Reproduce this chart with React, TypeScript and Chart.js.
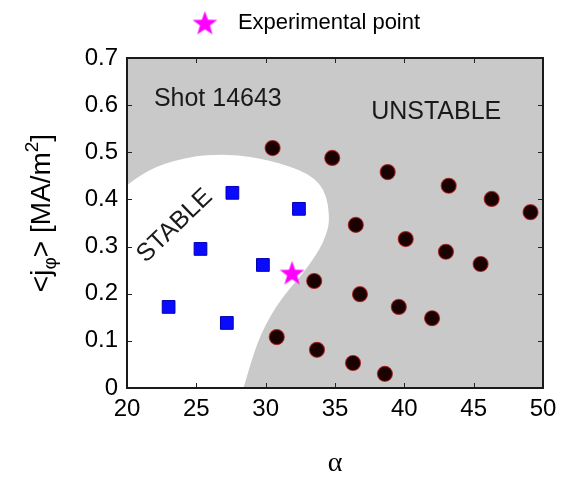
import React, { useEffect, useRef } from 'react';
import { Chart, registerables } from 'chart.js';

Chart.register(...registerables);

// ---- data (alpha, <j_phi> in MA/m^2) ----
const stableAlpha = [27.6, 32.4, 25.3, 29.8, 23.0, 27.2];
const stableJ = [0.414, 0.380, 0.295, 0.261, 0.172, 0.138];

const unstableAlpha = [30.5, 34.8, 38.8, 43.2, 46.3, 49.1, 36.5, 40.1, 43.0, 45.5, 33.5, 36.8, 39.6, 42.0, 30.8, 33.7, 36.3, 38.6];
const unstableJ = [0.509, 0.488, 0.458, 0.429, 0.401, 0.373, 0.346, 0.316, 0.289, 0.263, 0.227, 0.199, 0.172, 0.148, 0.108, 0.081, 0.053, 0.030];

const experimentalAlpha = [31.9];
const experimentalJ = [0.244];

// stability boundary (white = stable region), first point is the lower-left corner
const boundaryAlpha = [20, 20, 21, 22, 23.5, 25, 26.5, 28, 29.5, 31, 32.5, 33.5, 34.2, 34.5, 34.6, 34.3, 33.9, 33.3, 32.6, 31.7, 30.8, 30.0, 29.4, 28.9, 28.4];
const boundaryJ = [0, 0.43, 0.452, 0.468, 0.483, 0.492, 0.495, 0.494, 0.487, 0.477, 0.462, 0.445, 0.42, 0.39, 0.35, 0.32, 0.295, 0.268, 0.24, 0.21, 0.175, 0.135, 0.095, 0.05, 0];

const xTickValues = [20, 25, 30, 35, 40, 45, 50];
const xTickLabels = ['20', '25', '30', '35', '40', '45', '50'];
const yTickValues = [0, 0.1, 0.2, 0.3, 0.4, 0.5, 0.6, 0.7];
const yTickLabels = ['0', '0.1', '0.2', '0.3', '0.4', '0.5', '0.6', '0.7'];

const annotationTexts = ['Shot 14643', 'UNSTABLE', 'STABLE'];
const annotationAlpha = [26.55, 42.3, 23.45];
const annotationJ = [0.612, 0.586, 0.344];
const annotationAngle = [0, 0, -44];

const FONT = '"Liberation Sans", Arial, Helvetica, sans-serif';

function makeStar(size: number, color: string): HTMLCanvasElement {
  const c = document.createElement('canvas');
  c.width = size;
  c.height = size;
  const g = c.getContext('2d')!;
  const R = size / 2 - 0.5;
  const r = R * 0.4;
  const cx = size / 2, cy = size / 2 + 1;
  g.beginPath();
  for (let i = 0; i < 10; i++) {
    const ang = -Math.PI / 2 + (i * Math.PI) / 5;
    const rad = i % 2 === 0 ? R : r;
    g.lineTo(cx + rad * Math.cos(ang), cy + rad * Math.sin(ang));
  }
  g.closePath();
  g.fillStyle = color;
  g.fill();
  return c;
}

const regionPlugin = {
  id: 'stabilityRegion',
  beforeInit(chart: any) {
    const lg = chart.legend;
    if (lg) {
      const origFit = lg.fit;
      lg.fit = function () {
        origFit.call(lg);
        lg.height = 50;
      };
    }
  },
  beforeDatasetsDraw(chart: any) {
    const { ctx, chartArea: a } = chart;
    ctx.save();
    ctx.beginPath();
    ctx.rect(a.left, a.top, a.right - a.left, a.bottom - a.top);
    ctx.clip();
    ctx.fillStyle = '#c9c9c9';
    ctx.fillRect(a.left, a.top, a.right - a.left, a.bottom - a.top);
    const meta = chart.getDatasetMeta(0);
    const pts = meta.data.map((p: any) => ({ x: p.x, y: p.y }));
    const corner = pts[0];
    const b = pts.slice(1);
    ctx.beginPath();
    ctx.moveTo(corner.x, corner.y);
    ctx.lineTo(b[0].x, b[0].y);
    ctx.lineTo((b[0].x + b[1].x) / 2, (b[0].y + b[1].y) / 2);
    for (let i = 1; i < b.length - 1; i++) {
      const mx = (b[i].x + b[i + 1].x) / 2;
      const my = (b[i].y + b[i + 1].y) / 2;
      ctx.quadraticCurveTo(b[i].x, b[i].y, mx, my);
    }
    ctx.lineTo(b[b.length - 1].x, b[b.length - 1].y);
    ctx.closePath();
    ctx.fillStyle = '#ffffff';
    ctx.fill();
    ctx.restore();
  },
  afterDatasetsDraw(chart: any) {
    const { ctx, chartArea: a, scales } = chart;
    const xs = scales.x, ys = scales.y;
    ctx.save();
    // annotations
    ctx.fillStyle = '#1a1a1a';
    ctx.font = '25px ' + FONT;
    ctx.textAlign = 'center';
    ctx.textBaseline = 'middle';
    annotationTexts.forEach((t, i) => {
      const px = xs.getPixelForValue(annotationAlpha[i]);
      const py = ys.getPixelForValue(annotationJ[i]);
      ctx.save();
      ctx.translate(px, py);
      ctx.rotate((annotationAngle[i] * Math.PI) / 180);
      ctx.fillText(t, 0, 0);
      ctx.restore();
    });
    // inward ticks
    ctx.strokeStyle = '#222';
    ctx.lineWidth = 1;
    const tl = 5;
    ctx.beginPath();
    xTickValues.forEach((v) => {
      const px = Math.round(xs.getPixelForValue(v)) + 0.5;
      ctx.moveTo(px, a.bottom);
      ctx.lineTo(px, a.bottom - tl);
      ctx.moveTo(px, a.top);
      ctx.lineTo(px, a.top + tl);
    });
    yTickValues.forEach((v) => {
      const py = Math.round(ys.getPixelForValue(v)) + 0.5;
      ctx.moveTo(a.left, py);
      ctx.lineTo(a.left + tl, py);
      ctx.moveTo(a.right, py);
      ctx.lineTo(a.right - tl, py);
    });
    ctx.stroke();
    // box
    ctx.strokeStyle = '#1a1a1a';
    ctx.lineWidth = 2;
    ctx.strokeRect(a.left, a.top, a.right - a.left, a.bottom - a.top);
    ctx.restore();
  },
  afterDraw(chart: any) {
    const { ctx, chartArea: a } = chart;
    ctx.save();
    ctx.translate(42, (a.top + a.bottom) / 2 - 10);
    ctx.rotate(-Math.PI / 2);
    ctx.fillStyle = '#000';
    ctx.textBaseline = 'alphabetic';
    ctx.textAlign = 'left';
    const big = '28px ' + FONT;
    const small = '19px ' + FONT;
    const parts = [
      { t: '<j', f: big, dy: 0 },
      { t: 'φ', f: small, dy: 6 },
      { t: '> [MA/m', f: big, dy: 0 },
      { t: '2', f: small, dy: -12 },
      { t: ']', f: big, dy: 0 },
    ];
    let total = 0;
    parts.forEach((p) => {
      ctx.font = p.f;
      total += ctx.measureText(p.t).width;
    });
    let x = -total / 2;
    parts.forEach((p) => {
      ctx.font = p.f;
      ctx.fillText(p.t, x, p.dy);
      x += ctx.measureText(p.t).width;
    });
    ctx.restore();
  },
};

export default function App() {
  const ref = useRef<HTMLCanvasElement | null>(null);

  useEffect(() => {
    if (!ref.current) return;
    Chart.defaults.font.family = FONT;
    Chart.defaults.color = '#000';
    const star = makeStar(27, '#ff00ff');

    const chart = new Chart(ref.current, {
      type: 'scatter',
      data: {
        datasets: [
          {
            label: 'boundary',
            data: boundaryAlpha.map((x, i) => ({ x, y: boundaryJ[i] })),
            pointRadius: 0,
            pointHoverRadius: 0,
            showLine: false,
          },
          {
            label: 'Stable',
            data: stableAlpha.map((x, i) => ({ x, y: stableJ[i] })),
            pointStyle: 'rect',
            pointRadius: 9,
            backgroundColor: '#0a0aff',
            borderColor: '#0000b4',
            borderWidth: 1,
          },
          {
            label: 'Unstable',
            data: unstableAlpha.map((x, i) => ({ x, y: unstableJ[i] })),
            pointStyle: 'circle',
            pointRadius: 7.5,
            backgroundColor: '#1a0202',
            borderColor: 'rgba(170,20,20,0.75)',
            borderWidth: 1.2,
          },
          {
            label: 'Experimental point',
            data: experimentalAlpha.map((x, i) => ({ x, y: experimentalJ[i] })),
            pointStyle: star as any,
            pointRadius: 12,
            backgroundColor: '#ff00ff',
            borderColor: '#ff00ff',
          },
        ],
      },
      options: {
        responsive: false,
        animation: false,
        events: [],
        layout: { padding: { left: 51, right: 12, top: 0, bottom: 0 } },
        plugins: {
          tooltip: { enabled: false },
          legend: {
            position: 'top',
            labels: {
              usePointStyle: true,
              pointStyleWidth: 44,
              padding: 4,
              color: '#000',
              font: { size: 22, family: FONT },
              filter: (item: any) => item.datasetIndex === 3,
            },
          },
        },
        scales: {
          x: {
            type: 'linear',
            min: 20,
            max: 50,
            grid: { display: false, drawTicks: false },
            border: { display: false },
            afterBuildTicks: (s: any) => {
              s.ticks = xTickValues.map((v) => ({ value: v }));
            },
            afterFit: (s: any) => {
              s.height = 85;
              s.paddingLeft = 0;
              s.paddingRight = 0;
            },
            ticks: {
              padding: 7,
              color: '#000',
              font: { size: 24, family: FONT },
              maxRotation: 0,
              autoSkip: false,
              callback: (_v: any, i: number) => xTickLabels[i],
            },
            title: {
              display: true,
              text: 'α',
              color: '#000',
              font: { family: '"Liberation Serif", "DejaVu Serif", serif', size: 28, lineHeight: 0.64 },
              padding: { top: 0, bottom: 0 },
            },
          },
          y: {
            type: 'linear',
            min: 0,
            max: 0.7,
            grid: { display: false, drawTicks: false },
            border: { display: false },
            afterBuildTicks: (s: any) => {
              s.ticks = yTickValues.map((v) => ({ value: v }));
            },
            afterFit: (s: any) => {
              s.width = 68;
            },
            ticks: {
              padding: 9,
              color: '#000',
              font: { size: 24, family: FONT },
              autoSkip: false,
              callback: (_v: any, i: number) => yTickLabels[i],
            },
          },
        },
      },
      plugins: [regionPlugin],
    });
    return () => chart.destroy();
  }, []);

  return (
    <div style={{ width: 548, height: 465 }}>
      <canvas ref={ref} width={548} height={465} style={{ display: 'block' }} />
    </div>
  );
}
